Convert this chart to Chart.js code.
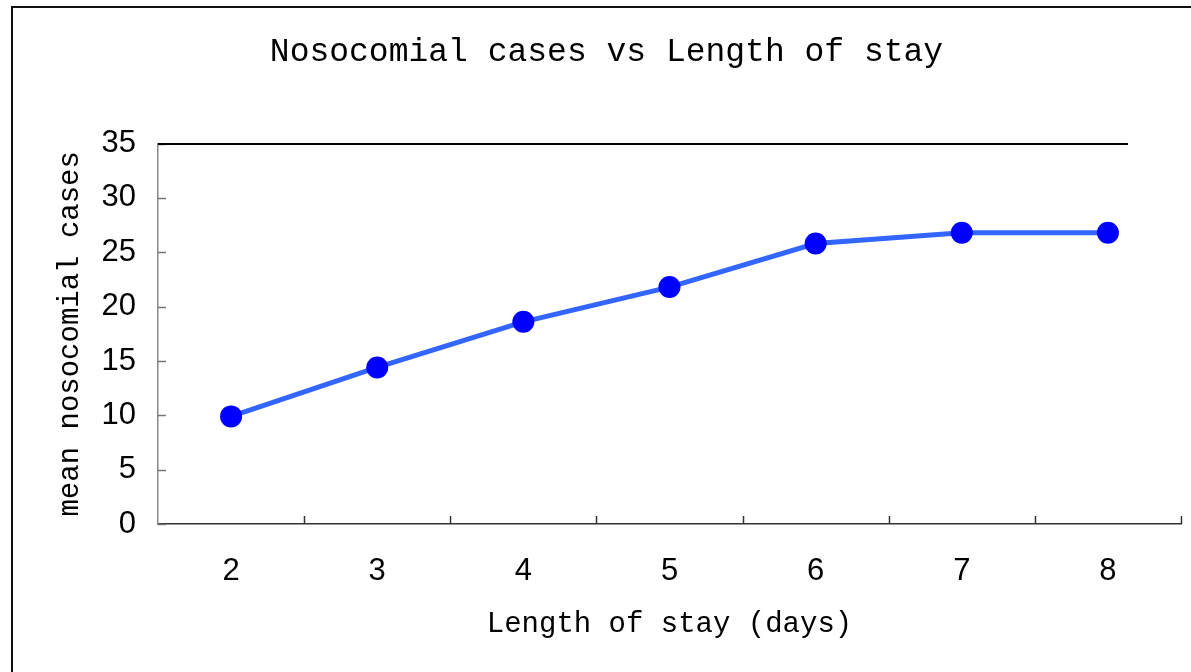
<!DOCTYPE html>
<html>
<head>
<meta charset="utf-8">
<title>Nosocomial cases vs Length of stay</title>
<script src="https://cdn.jsdelivr.net/npm/chart.js@4.4.1/dist/chart.umd.min.js"></script>
<style>
  html, body { margin: 0; padding: 0; background: #fff; overflow: hidden; }
  #wrap { position: absolute; left: 0; top: 0; width: 1213px; height: 672px; }
  #frame {
    position: absolute; left: 11px; top: 6px; width: 1400px; height: 900px;
    border-top: 2px solid #111; border-left: 2px solid #111;
    pointer-events: none;
  }
</style>
</head>
<body>
<div id="wrap"><canvas id="chart"></canvas></div>
<div id="frame"></div>
<script>
const stayDays = ['2', '3', '4', '5', '6', '7', '8'];
const meanCases = [9.9, 14.4, 18.6, 21.8, 25.8, 26.8, 26.8];
const yTicks = [0, 5, 10, 15, 20, 25, 30, 35];

const titleFont = { family: '"Liberation Mono", "DejaVu Sans Mono", monospace', weight: 'normal' };
const tickFont = { family: '"Liberation Sans", Arial, sans-serif', size: 31 };

// Excel-style inner tick marks and the black line across the top
const innerTicks = {
  id: 'innerTicks',
  afterDraw(chart) {
    const { ctx, chartArea: area, scales: { x, y } } = chart;
    ctx.save();
    ctx.lineWidth = 1.5;
    ctx.strokeStyle = '#777';
    yTicks.forEach((v) => {
      const py = Math.round(y.getPixelForValue(v)) + 0.5;
      ctx.beginPath();
      ctx.moveTo(area.left, py);
      ctx.lineTo(area.left + 8, py);
      ctx.stroke();
    });
    ctx.strokeStyle = '#333';
    const step = (area.right - area.left) / stayDays.length;
    for (let i = 1; i <= stayDays.length; i++) {
      const px = Math.round(area.left + i * step) + 0.5;
      ctx.beginPath();
      ctx.moveTo(px, area.bottom);
      ctx.lineTo(px, area.bottom - 8);
      ctx.stroke();
    }
    const topY = Math.round(y.getPixelForValue(35));
    ctx.strokeStyle = '#000';
    ctx.lineWidth = 2;
    ctx.beginPath();
    ctx.moveTo(area.left, topY);
    ctx.lineTo(area.right - 53, topY);
    ctx.stroke();
    ctx.restore();
  },
};

const ctx = document.getElementById('chart').getContext('2d');
new Chart(ctx, {
  type: 'line',
  data: {
    labels: stayDays,
    datasets: [
      {
        label: 'mean nosocomial cases',
        data: meanCases,
        borderColor: '#3366ff',
        borderWidth: 5,
        tension: 0,
        pointRadius: 11,
        pointHoverRadius: 11,
        pointBorderWidth: 0,
        pointBackgroundColor: '#0000ff',
        pointBorderColor: '#0000ff',
      },
    ],
  },
  options: {
    responsive: true,
    maintainAspectRatio: false,
    animation: false,
    layout: { padding: { left: 32, right: 32, top: 0, bottom: 0 } },
    plugins: {
      legend: { display: false },
      tooltip: { enabled: false },
      title: {
        display: true,
        text: 'Nosocomial cases vs Length of stay',
        color: '#000',
        font: { ...titleFont, size: 33 },
        padding: { top: 32, bottom: 72 },
      },
    },
    scales: {
      x: {
        type: 'category',
        offset: true,
        grid: { display: false, drawTicks: false },
        border: { display: true, color: '#333', width: 1.5 },
        ticks: { color: '#000', font: tickFont, padding: 29, maxRotation: 0 },
        title: {
          display: true,
          text: 'Length of stay (days)',
          color: '#000',
          font: { ...titleFont, size: 29 },
          padding: { top: 0, bottom: 30 },
        },
        afterFit(scale) { scale.height = 148; },
      },
      y: {
        min: 0,
        max: 35,
        grid: { display: false, drawTicks: false },
        border: { display: true, color: '#888', width: 1.5 },
        ticks: {
          stepSize: 5,
          color: '#000',
          font: tickFont,
          padding: 22,
        },
        afterBuildTicks(scale) { scale.ticks = yTicks.map((v) => ({ value: v })); },
        title: {
          display: true,
          text: 'mean nosocomial cases',
          color: '#000',
          font: { ...titleFont, size: 29 },
          padding: { top: 21, bottom: 0 },
        },
        afterFit(scale) { scale.width = 126; },
      },
    },
  },
  plugins: [innerTicks],
});
</script>
</body>
</html>
